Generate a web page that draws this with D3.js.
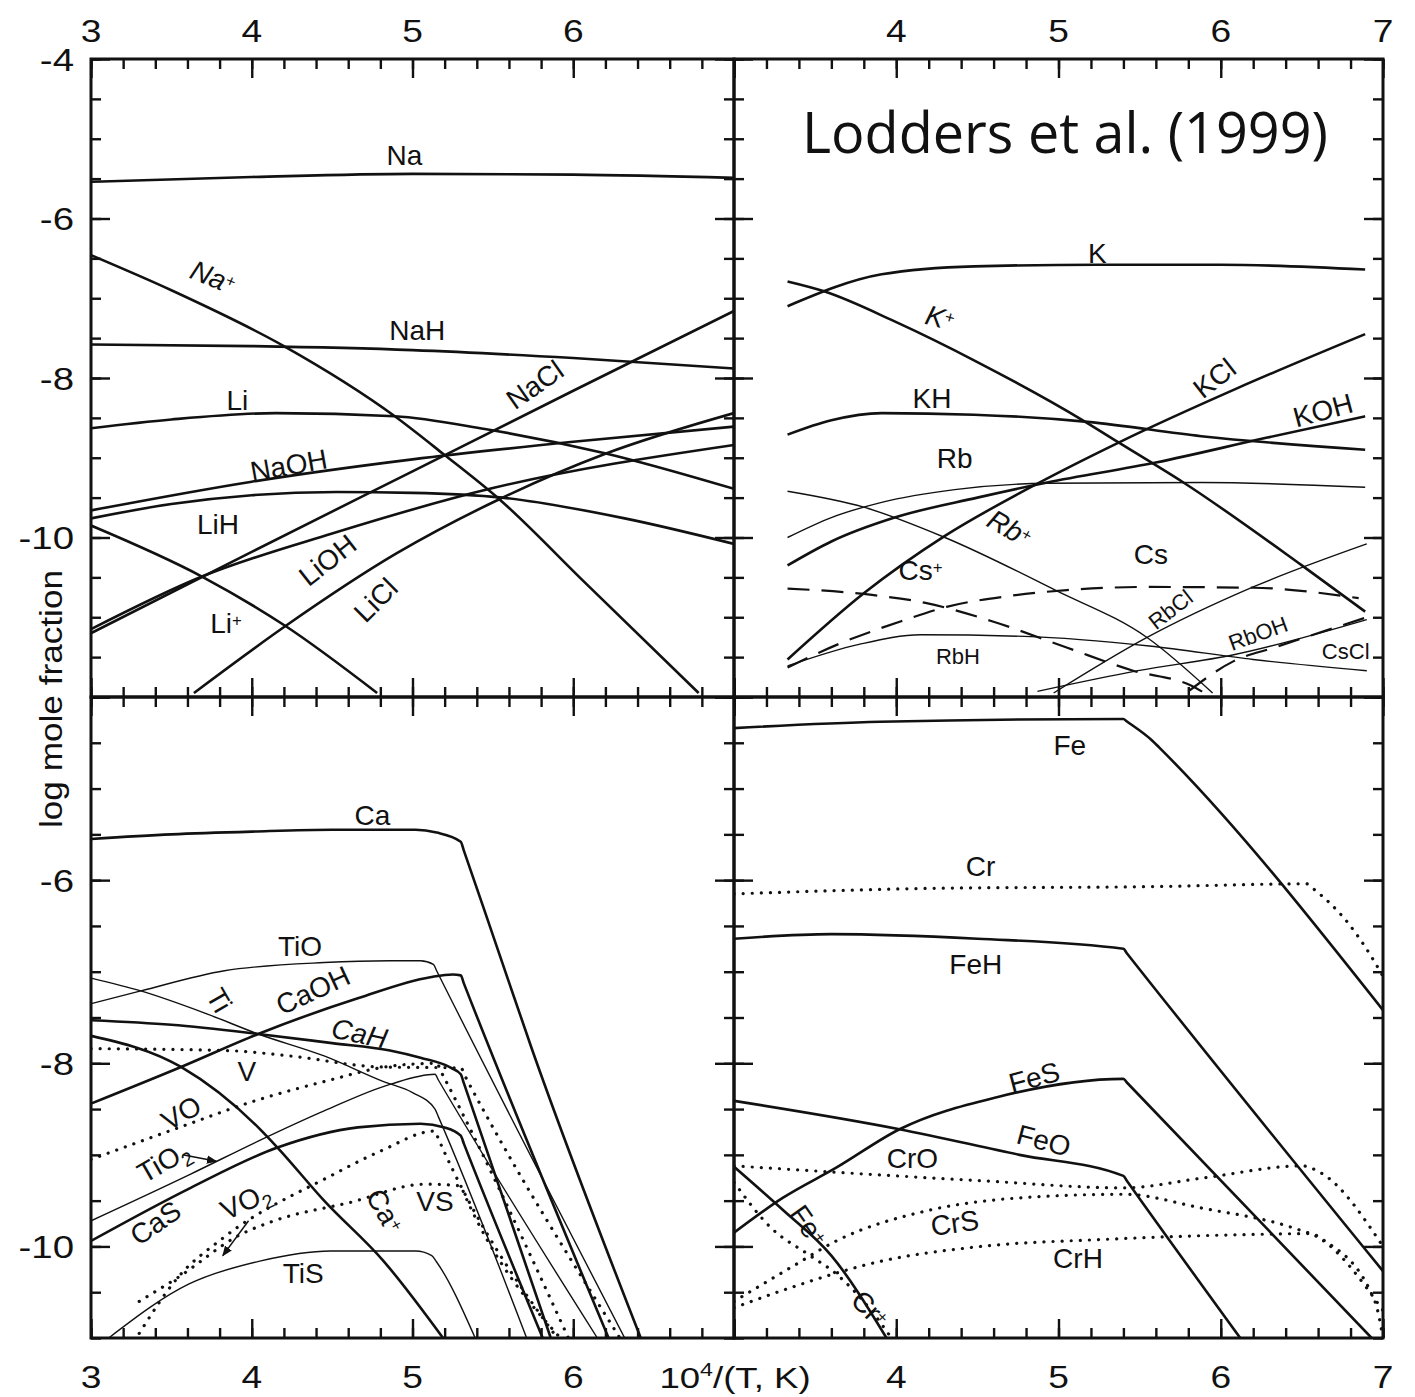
<!DOCTYPE html>
<html>
<head>
<meta charset="utf-8">
<script src="https://cdn.jsdelivr.net/npm/d3@7"></script>
<style>
  body { margin: 0; background: #fff; }
  svg text { font-family: "Liberation Sans", Arial, sans-serif; fill: #111; }
  .frame { fill: none; stroke: #111; stroke-width: 3; }
  .tick line { stroke: #111; stroke-width: 2.4; }
  .domain { display: none; }
  .curve { fill: none; stroke: #111; stroke-linejoin: round; }
</style>
</head>
<body>
<div id="chart"></div>
<script>
// ---- axis values ----
var xMajor = [3, 4, 5, 6, 7];
var xMinor = d3.range(3, 7.001, 0.2);
var yMinorTop = d3.range(-12, -3.999, 0.5);
var yMinorBottom = d3.range(-11, -3.999, 0.5);
var yMajorTop = [-4, -6, -8, -10, -12];
var yMajorBottom = [-4, -6, -8, -10];
var topLabelsLeft = [3, 4, 5, 6];
var topLabelsRight = [4, 5, 6, 7];
var yLabelsTop = [-4, -6, -8, -10];
var yLabelsBottom = [-6, -8, -10];

// ---- Na / Li panel (top left) ----
var Na = [[3,-5.54],[4,-5.48],[5,-5.44],[6,-5.45],[7,-5.49]];
var NaIon = [[3,-6.46],[3.5,-6.9],[4.2,-7.6],[4.89,-8.48],[5.19,-8.95],[5.54,-9.52],[6.07,-10.56],[6.78,-11.95]];
var NaH = [[3,-7.58],[4,-7.6],[5,-7.65],[6,-7.75],[7,-7.88]];
var Li = [[3,-8.63],[3.5,-8.52],[4.15,-8.44],[4.89,-8.48],[5.45,-8.64],[6.19,-8.94],[7,-9.39]];
var NaOH = [[3,-9.66],[4,-9.3],[5,-9.02],[6,-8.8],[7,-8.61]];
var LiH = [[3,-9.76],[3.5,-9.58],[4,-9.47],[4.53,-9.43],[5,-9.44],[5.56,-9.5],[6.32,-9.76],[7,-10.08]];
var NaCl = [[3,-11.2],[4,-10.18],[5,-9.17],[6,-8.16],[7,-7.16]];
var LiOH = [[3,-11.15],[3.69,-10.49],[4.5,-9.95],[5.5,-9.38],[7,-8.84]];
var LiCl = [[3.64,-11.95],[4.21,-11.11],[4.9,-10.2],[5.54,-9.52],[6.2,-8.95],[7,-8.44]];
var LiIon = [[3,-9.85],[3.69,-10.49],[4.21,-11.11],[4.78,-11.95]];

// ---- K / Rb / Cs panel (top right) ----
var K = [[3.33,-7.1],[3.91,-6.7],[4.48,-6.6],[5.24,-6.58],[6,-6.58],[6.89,-6.64]];
var KIon = [[3.33,-6.79],[3.55,-6.91],[4,-7.3],[4.5,-7.8],[5.15,-8.53],[5.38,-8.82],[5.77,-9.31],[6.5,-10.35],[6.89,-10.93]];
var KH = [[3.33,-8.71],[3.6,-8.53],[3.91,-8.44],[4.48,-8.46],[5.18,-8.55],[5.88,-8.73],[6.89,-8.9]];
var KCl = [[3.33,-11.53],[3.8,-10.7],[4.3,-9.98],[4.8,-9.4],[5.38,-8.8],[6.1,-8.13],[6.89,-7.45]];
var KOH = [[3.33,-10.35],[3.6,-10.05],[3.99,-9.75],[4.5,-9.5],[4.93,-9.31],[5.6,-9.06],[6.28,-8.75],[6.89,-8.48]];
var Rb = [[3.33,-10],[3.6,-9.75],[3.91,-9.56],[4.36,-9.4],[4.93,-9.32],[5.88,-9.31],[6.89,-9.37]];
var RbIon = [[3.33,-9.42],[3.8,-9.62],[4.3,-10],[4.98,-10.66],[5.55,-11.26],[5.95,-11.95]];
var Cs = [[3.33,-11.63],[3.64,-11.34],[4.03,-11.05],[4.31,-10.87],[4.67,-10.74],[5.05,-10.66],[5.56,-10.62],[6.2,-10.63],[6.85,-10.76]];
var CsIon = [[3.33,-10.64],[3.85,-10.72],[4.18,-10.82],[4.59,-11.05],[5.05,-11.38],[5.46,-11.67],[5.82,-11.86],[5.9,-11.95]];
var RbH = [[3.33,-11.61],[3.77,-11.34],[4.15,-11.22],[4.79,-11.24],[5.56,-11.36],[6.2,-11.53],[6.9,-11.67]];
var RbCl = [[4.97,-11.95],[5.54,-11.26],[6.2,-10.62],[6.9,-10.08]];
var RbOH = [[4.87,-11.93],[5.49,-11.67],[6.08,-11.47],[6.9,-11.03]];
var CsCl = [[5.8,-11.93],[6.08,-11.55],[6.33,-11.38],[6.9,-11]];

// ---- Ca / Ti / V panel (bottom left) ----
var Ca = [[3,-5.55],[3.5,-5.5],[4,-5.47],[4.5,-5.45],[5.02,-5.45],[5.15,-5.48],[5.3,-5.58],[5.32,-5.68],[5.5,-6.6],[5.74,-7.83],[6.42,-11]];
var TiO = [[3,-7.35],[3.31,-7.21],[3.83,-6.99],[4.45,-6.9],[4.86,-6.88],[5.05,-6.88],[5.13,-6.92],[5.15,-6.99],[6.32,-11]];
var Ti = [[3,-7.07],[3.31,-7.21],[3.72,-7.46],[4.04,-7.68],[4.45,-7.92],[4.82,-8.2],[5,-8.32],[5.14,-8.5],[5.16,-8.58],[5.71,-11]];
var CaOH = [[3,-8.44],[3.56,-8.04],[4.04,-7.68],[4.66,-7.29],[5.11,-7.06],[5.25,-7.03],[5.3,-7.04],[5.32,-7.13],[6.22,-11]];
var CaH = [[3,-7.53],[3.5,-7.58],[4.04,-7.68],[4.5,-7.78],[4.86,-7.86],[5.05,-7.94],[5.24,-8.05],[5.3,-8.12],[5.32,-8.22],[5.86,-11]];
var V = [[3,-7.84],[3.83,-7.86],[4.24,-7.92],[4.8,-8.04],[5.3,-8.05],[5.33,-8.15],[6.29,-11]];
var VO = [[3,-9.05],[3.55,-8.7],[4.02,-8.41],[4.45,-8.2],[4.87,-8.03],[5.15,-8],[5.18,-8.1],[5.97,-11]];
var TiO2 = [[3,-9.72],[3.62,-9.21],[4.04,-8.85],[4.45,-8.52],[4.86,-8.23],[5.14,-8.12],[5.16,-8.18],[6.15,-11]];
var CaS = [[3,-9.94],[3.62,-9.36],[4.16,-8.92],[4.66,-8.7],[5.05,-8.66],[5.2,-8.7],[5.3,-8.79],[5.32,-8.88],[5.81,-11]];
var VO2 = [[3.3,-10.95],[3.54,-10.34],[3.82,-9.91],[4.49,-9.23],[4.8,-8.96],[5.14,-8.74],[5.16,-8.82],[5.9,-11]];
var VS = [[3.3,-10.6],[3.54,-10.34],[3.93,-9.87],[4.14,-9.72],[4.61,-9.52],[5.08,-9.32],[5.3,-9.34],[5.32,-9.42],[5.92,-11]];
var TiS = [[3.11,-11],[3.61,-10.41],[4.05,-10.16],[4.49,-10.05],[5.02,-10.05],[5.12,-10.1],[5.15,-10.17],[5.39,-11]];
var CaIon = [[3,-7.7],[3.56,-8.04],[4.04,-8.7],[4.16,-8.92],[4.45,-9.5],[4.82,-10.16],[5.19,-11]];

// ---- Fe / Cr panel (bottom right) ----
var Fe = [[3,-4.34],[3.9,-4.27],[5.4,-4.24],[5.42,-4.265],[5.58,-4.48],[5.62,-4.55],[7,-7.42]];
var Cr = [[3,-6.15],[4.2,-6.09],[5.6,-6.07],[6.53,-6.04],[6.56,-6.08],[6.79,-6.48],[6.93,-6.84],[7,-7.05]];
var FeH = [[3,-6.64],[3.6,-6.59],[4.5,-6.64],[5.4,-6.75],[5.42,-6.795],[7,-10.27]];
var FeS = [[3,-9.85],[3.3,-9.47],[3.63,-9.14],[4.02,-8.72],[4.62,-8.37],[5.4,-8.17],[5.42,-8.207],[6.93,-11]];
var FeO = [[3,-8.41],[4.02,-8.72],[4.76,-9],[5.4,-9.23],[5.42,-9.28],[6.12,-11]];
var FeIon = [[3,-9.13],[3.3,-9.6],[3.6,-10.1],[3.94,-11]];
var CrIon = [[3,-9.3],[3.23,-9.8],[3.46,-10.09],[3.63,-10.3],[3.85,-10.71],[3.97,-11]];
var CrO = [[3,-9.12],[4.5,-9.28],[5.4,-9.36],[5.9,-9.25],[6.5,-9.12],[6.62,-9.2],[7,-10]];
var CrS = [[3,-10.6],[3.35,-10.23],[3.63,-9.94],[4.19,-9.61],[4.76,-9.47],[5.4,-9.43],[5.88,-9.58],[6.45,-9.8],[6.6,-9.9],[7,-10.7]];
var CrH = [[3,-10.67],[3.35,-10.45],[3.91,-10.16],[4.47,-10.01],[5.32,-9.92],[6.17,-9.87],[6.55,-9.86],[6.65,-9.95],[6.95,-10.6],[7,-11]];

var w = 1415, h = 1397;
var xL = [91, 734], xR = [734, 1383];
var yT = [59, 697], yB = [697, 1338];

var svg = d3.select("#chart").append("svg")
  .attr("width", w).attr("height", h);
svg.append("rect").attr("width", w).attr("height", h).attr("fill", "#fff");

var styles = {
  thick: { width: 2.6, dash: null },
  thin: { width: 1.4, dash: null },
  dash: { width: 2.2, dash: "22,12" },
  dot: { width: 3.2, dash: "0.1,9" }
};

function makePanel(id, xr, yr, yDomain) {
  var x = d3.scaleLinear().domain([3, 7]).range(xr);
  var y = d3.scaleLinear().domain(yDomain).range(yr);
  var g = svg.append("g");
  svg.append("clipPath").attr("id", id)
    .append("rect").attr("x", xr[0]).attr("y", yr[0])
    .attr("width", xr[1] - xr[0]).attr("height", yr[1] - yr[0]);
  var plot = g.append("g").attr("clip-path", "url(#" + id + ")");
  return { x: x, y: y, g: g, plot: plot };
}

var panels = {
  tl: makePanel("clipTL", xL, yT, [-4, -12]),
  tr: makePanel("clipTR", xR, yT, [-4, -12]),
  bl: makePanel("clipBL", xL, yB, [-4, -11]),
  br: makePanel("clipBR", xR, yB, [-4, -11])
};

function drawSeries(p, data, kind) {
  var st = styles[kind];
  var line = d3.line()
    .x(function(d) { return p.x(d[0]); })
    .y(function(d) { return p.y(d[1]); })
    .curve(d3.curveMonotoneX);
  var path = p.plot.append("path")
    .datum(data)
    .attr("class", "curve")
    .attr("d", line)
    .attr("stroke-width", st.width);
  if (st.dash) path.attr("stroke-dasharray", st.dash);
  if (kind === "dot") path.attr("stroke-linecap", "round");
}

// series per panel
[[Na,"thick"],[NaIon,"thick"],[NaH,"thick"],[Li,"thick"],[NaOH,"thick"],[LiH,"thick"],
 [NaCl,"thick"],[LiOH,"thick"],[LiCl,"thick"],[LiIon,"thick"]]
  .forEach(function(s) { drawSeries(panels.tl, s[0], s[1]); });

[[K,"thick"],[KIon,"thick"],[KH,"thick"],[KCl,"thick"],[KOH,"thick"],[Rb,"thin"],[RbIon,"thin"],
 [Cs,"dash"],[CsIon,"dash"],[RbH,"thin"],[RbCl,"thin"],[RbOH,"thin"],[CsCl,"dash"]]
  .forEach(function(s) { drawSeries(panels.tr, s[0], s[1]); });

[[Ca,"thick"],[TiO,"thin"],[Ti,"thin"],[CaOH,"thick"],[CaH,"thick"],[V,"dot"],[VO,"dot"],
 [TiO2,"thin"],[CaS,"thick"],[VO2,"dot"],[VS,"dot"],[TiS,"thin"],[CaIon,"thick"]]
  .forEach(function(s) { drawSeries(panels.bl, s[0], s[1]); });

[[Fe,"thick"],[Cr,"dot"],[FeH,"thick"],[FeS,"thick"],[FeO,"thick"],[FeIon,"thick"],
 [CrIon,"dot"],[CrO,"dot"],[CrS,"dot"],[CrH,"dot"]]
  .forEach(function(s) { drawSeries(panels.br, s[0], s[1]); });

// ---- ticks on every edge, pointing inward ----
function edgeTicks(p, yMinor, yMajor) {
  var xr = p.x.range(), yr = p.y.range();
  [[xMinor, 10], [xMajor, 19]].forEach(function(s) {
    p.g.append("g").attr("transform", "translate(0," + yr[0] + ")")
      .call(d3.axisTop(p.x).tickValues(s[0]).tickSize(-s[1]).tickFormat(""));
    p.g.append("g").attr("transform", "translate(0," + yr[1] + ")")
      .call(d3.axisBottom(p.x).tickValues(s[0]).tickSize(-s[1]).tickFormat(""));
  });
  [[yMinor, 10], [yMajor, 19]].forEach(function(s) {
    p.g.append("g").attr("transform", "translate(" + xr[0] + ",0)")
      .call(d3.axisLeft(p.y).tickValues(s[0]).tickSize(-s[1]).tickFormat(""));
    p.g.append("g").attr("transform", "translate(" + xr[1] + ",0)")
      .call(d3.axisRight(p.y).tickValues(s[0]).tickSize(-s[1]).tickFormat(""));
  });
  p.g.append("rect").attr("class", "frame")
    .attr("x", xr[0]).attr("y", yr[0])
    .attr("width", xr[1] - xr[0]).attr("height", yr[1] - yr[0]);
}
edgeTicks(panels.tl, yMinorTop, yMajorTop);
edgeTicks(panels.tr, yMinorTop, yMajorTop);
edgeTicks(panels.bl, yMinorBottom, yMajorBottom);
edgeTicks(panels.br, yMinorBottom, yMajorBottom);

// ---- tick labels (the scan's digits are a bit wide) ----
function labelWidth(s, size) {
  var wsum = 0;
  String(s).split("").forEach(function(c) { wsum += (c === "-" ? 0.333 : 0.556); });
  return wsum * size * 1.2;
}
function xLabels(p, vals, ypos) {
  svg.append("g").selectAll("text").data(vals).enter().append("text")
    .attr("x", function(d) { return p.x(d); })
    .attr("y", ypos)
    .attr("text-anchor", "middle")
    .attr("font-size", 31)
    .attr("textLength", function(d) { return labelWidth(d, 31); })
    .attr("lengthAdjust", "spacingAndGlyphs")
    .text(function(d) { return d; });
}
xLabels(panels.tl, topLabelsLeft, 42);
xLabels(panels.tr, topLabelsRight, 42);
xLabels(panels.bl, topLabelsLeft, 1388);
xLabels(panels.br, topLabelsRight, 1388);

function yLabels(p, vals) {
  svg.append("g").selectAll("text").data(vals).enter().append("text")
    .attr("x", 74)
    .attr("y", function(d) { return p.y(d); })
    .attr("dy", "0.36em")
    .attr("text-anchor", "end")
    .attr("font-size", 32)
    .attr("textLength", function(d) { return labelWidth(d, 32); })
    .attr("lengthAdjust", "spacingAndGlyphs")
    .text(function(d) { return d; });
}
yLabels(panels.tl, yLabelsTop);
yLabels(panels.bl, yLabelsBottom);

svg.append("text")
  .attr("transform", "translate(62,699) rotate(-90)")
  .attr("text-anchor", "middle")
  .attr("font-size", 31)
  .attr("textLength", 258)
  .attr("lengthAdjust", "spacingAndGlyphs")
  .text("log mole fraction");

var xt = svg.append("text")
  .attr("transform", "translate(735,1388) scale(1.22,1)")
  .attr("text-anchor", "middle").attr("font-size", 30);
xt.append("tspan").text("10");
xt.append("tspan").attr("dy", -12).attr("font-size", 19).text("4");
xt.append("tspan").attr("dy", 12).text("/(T, K)");

svg.append("text")
  .attr("x", 1065).attr("y", 153)
  .attr("text-anchor", "middle")
  .attr("font-size", 56)
  .attr("textLength", 526)
  .attr("lengthAdjust", "spacingAndGlyphs")
  .style("font-family", "'Open Sans', sans-serif")
  .text("Lodders et al. (1999)");

// ---- curve labels: [text, x, y, rotation, size, italic, suffix] ----
var labelsTL = [["Na",4.95,-5.2,0],["Na",3.76,-6.73,22,28,true,"+"],["NaH",5.03,-7.4,0],["Li",3.91,-8.27,0],
  ["NaCl",5.76,-8.08,-35],["NaOH",4.23,-9.09,-10],["LiH",3.79,-9.83,0],["LiOH",4.47,-10.28,-38],
  ["LiCl",4.77,-10.78,-45],["Li",3.84,-11.07,0,28,false,"+"]];
var labelsTR = [["K",5.24,-6.43,0],["K",4.27,-7.24,15,28,true,"+"],["KH",4.22,-8.25,0],["KCl",5.96,-8.0,-38],
  ["KOH",6.63,-8.4,-15],["Rb",4.36,-9.0,0],["Rb",4.7,-9.88,30,28,true,"+"],["Cs",5.57,-10.2,0],
  ["Cs",4.15,-10.41,0,28,false,"+"],["RbCl",5.69,-10.9,-38,22],["RbOH",6.23,-11.2,-20,22],
  ["CsCl",6.77,-11.43,0,22],["RbH",4.38,-11.49,0,22]];
var labelsBL = [["Ca",4.75,-5.29,0],["TiO",4.3,-6.72,0],["Ti",3.8,-7.31,60],["CaOH",4.38,-7.2,-25],
  ["CaH",4.67,-7.67,12,28,true],["V",3.97,-8.08,0],["VO",3.56,-8.54,-30],["TiO",3.45,-9.07,-30,28,false,"2s"],
  ["CaS",3.4,-9.74,-35],["VO",3.96,-9.5,-25,28,false,"2s"],["Ca",4.83,-9.61,60,28,false,"+"],
  ["VS",5.14,-9.5,0],["TiS",4.32,-10.29,0]];
var labelsBR = [["Fe",5.07,-4.52,0],["Cr",4.52,-5.84,0],["FeH",4.49,-6.91,0],["FeS",4.85,-8.15,-15],
  ["FeO",4.91,-8.84,15],["CrO",4.1,-9.03,0],["CrS",4.36,-9.74,-8],["CrH",5.12,-10.12,0],
  ["Fe",3.46,-9.77,55,28,false,"+"],["Cr",3.84,-10.68,45,28,false,"+"]];

function drawLabels(p, labels) {
  labels.forEach(function(l) {
    var size = l[4] || 28;
    var t = svg.append("text")
      .attr("transform", "translate(" + p.x(l[1]) + "," + p.y(l[2]) + ") rotate(" + l[3] + ")")
      .attr("text-anchor", "middle")
      .attr("dy", "0.36em")
      .attr("font-size", size);
    if (l[5]) t.attr("font-style", "italic");
    t.append("tspan").text(l[0]);
    if (l[6] === "+") t.append("tspan").attr("font-size", size * 0.6).attr("dy", -size * 0.25).text("+");
    if (l[6] === "2s") t.append("tspan").attr("font-size", size * 0.7).attr("dy", size * 0.25).text("2");
  });
}
drawLabels(panels.tl, labelsTL);
drawLabels(panels.tr, labelsTR);
drawLabels(panels.bl, labelsBL);
drawLabels(panels.br, labelsBR);

// small pointer arrows for TiO2 and VO2 labels
svg.append("defs").append("marker").attr("id", "arr")
  .attr("viewBox", "0 0 10 10").attr("refX", 9).attr("refY", 5)
  .attr("markerWidth", 7).attr("markerHeight", 7).attr("orient", "auto")
  .append("path").attr("d", "M0,1 L10,5 L0,9 Z").attr("fill", "#111");
var arrows = [[panels.bl, 3.57, -9.0, 3.78, -9.07], [panels.bl, 3.98, -9.72, 3.82, -10.1]];
arrows.forEach(function(a) {
  svg.append("line")
    .attr("x1", a[0].x(a[1])).attr("y1", a[0].y(a[2]))
    .attr("x2", a[0].x(a[3])).attr("y2", a[0].y(a[4]))
    .attr("stroke", "#111").attr("stroke-width", 1.5)
    .attr("marker-end", "url(#arr)");
});
</script>
</body>
</html>
